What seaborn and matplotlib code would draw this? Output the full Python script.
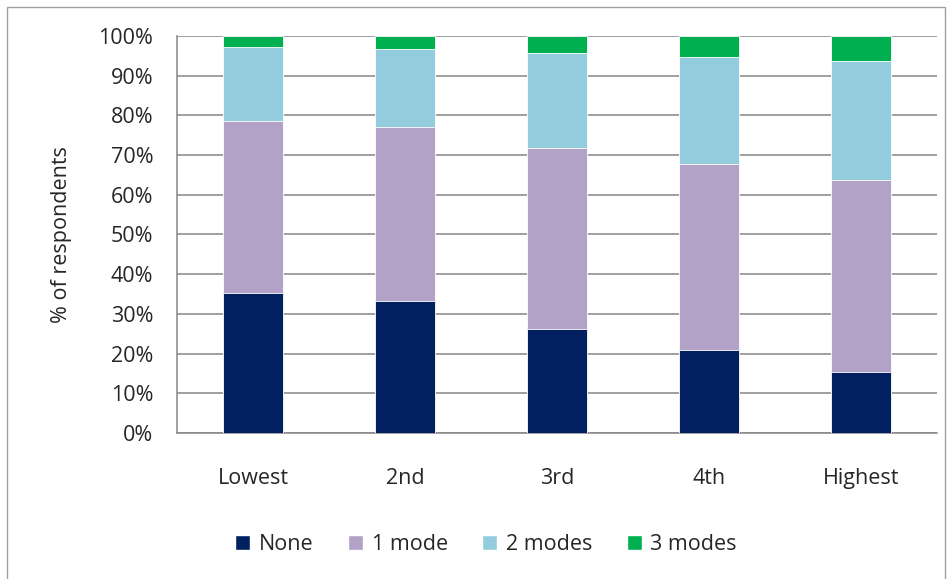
import numpy as np
import pandas as pd
import seaborn as sns
import matplotlib.pyplot as plt
from matplotlib.patches import Rectangle, Patch
from matplotlib.ticker import PercentFormatter

quintiles = ['Lowest', '2nd', '3rd', '4th', 'Highest']
none = [35.3, 33.2, 26.1, 20.8, 15.3]
one_mode = [43.2, 43.8, 45.6, 46.9, 48.4]
two_modes = [18.7, 19.7, 24.0, 27.0, 30.0]
three_modes = [2.8, 3.3, 4.3, 5.3, 6.3]

series = ['None', '1 mode', '2 modes', '3 modes']
colors = ['#002060', '#B3A2C7', '#93CDDD', '#00B050']

df = pd.DataFrame({'Quintile': quintiles, 'None': none, '1 mode': one_mode,
                   '2 modes': two_modes, '3 modes': three_modes})
cum = df[series].cumsum(axis=1)
cum['Quintile'] = df['Quintile']

sns.set_style('white')
plt.rcParams['font.family'] = ['Open Sans', 'DejaVu Sans']
fs = 15.5

fig = plt.figure(figsize=(9.53, 5.79), dpi=100)
ax = fig.add_axes([0.1857, 0.2522, 0.7975, 0.6856])

# draw cumulative totals from the top down so each layer covers the next
for name, col in zip(series[::-1], colors[::-1]):
    sns.barplot(data=cum, x='Quintile', y=name, color=col, width=0.39,
                edgecolor='white', linewidth=0.6, saturation=1, ax=ax, zorder=3)

ax.set_ylim(0, 100)
ax.set_xlim(-0.5, 4.5)
ax.set_yticks(np.arange(0, 101, 10))
ax.yaxis.set_major_formatter(PercentFormatter(decimals=0))
ax.grid(axis='y', color='#868686', linewidth=1.1, zorder=0)
ax.set_axisbelow(True)

for s in ['top', 'right']:
    ax.spines[s].set_visible(False)
for s in ['left', 'bottom']:
    ax.spines[s].set_color('#868686')
    ax.spines[s].set_linewidth(1.1)

ax.set_xlabel('')
ax.set_ylabel('% of respondents', fontsize=fs, labelpad=19)
ax.tick_params(axis='y', which='major', direction='out', length=6, width=1.1,
               color='#868686', labelsize=fs, pad=11)
ax.tick_params(axis='x', which='major', length=0, labelsize=fs, pad=25)
ax.set_xticks(np.arange(-0.5, 4.6, 1), minor=True)
ax.tick_params(axis='x', which='minor', direction='out', length=6, width=1.1,
               color='#868686')

handles = [Patch(facecolor=c, label=n) for n, c in zip(series, colors)]
fig.legend(handles=handles, loc='center', bbox_to_anchor=(0.51, 0.059), ncol=4,
           frameon=False, fontsize=fs, handlelength=0.7, handleheight=0.7,
           handletextpad=0.4, columnspacing=1.6)

fig.patches.append(Rectangle((7 / 953, -0.01), 938 / 953, 1 - 7 / 579 + 0.01,
                             transform=fig.transFigure, fill=False,
                             edgecolor='#A0A0A0', linewidth=1))

fig.savefig('out.png', dpi=100)
